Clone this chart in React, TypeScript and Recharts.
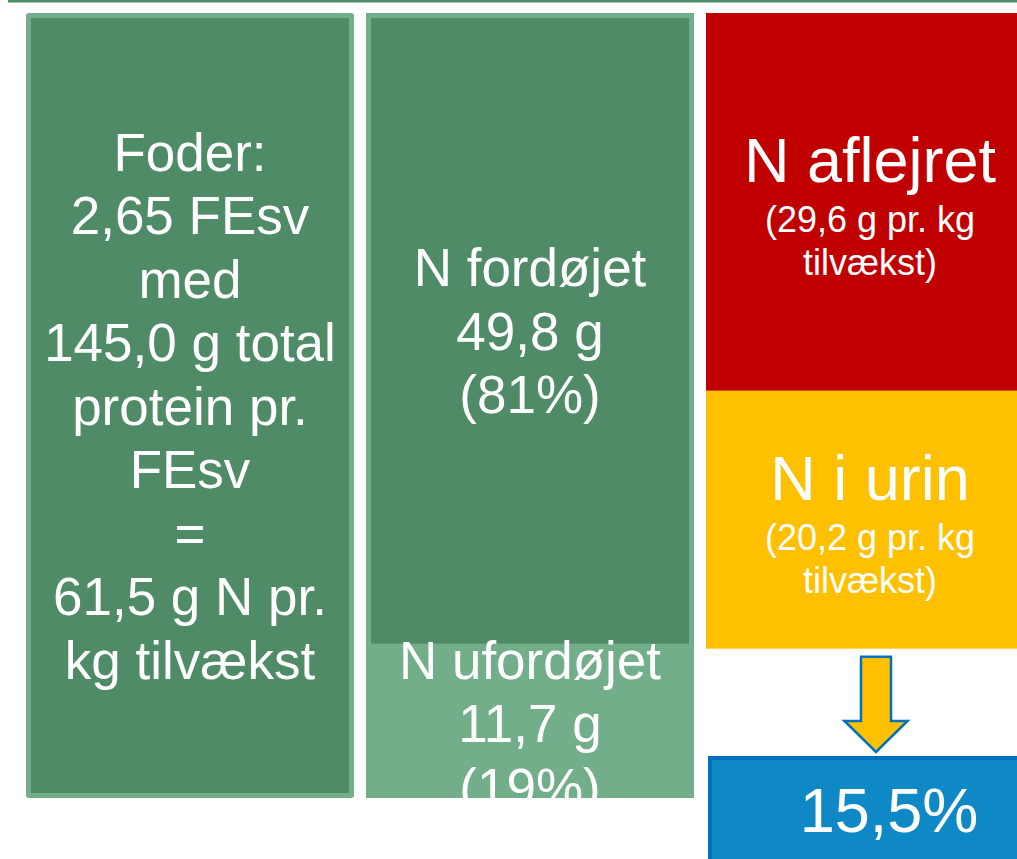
import React from 'react';
import { BarChart, Bar, XAxis, YAxis, LabelList, Customized } from 'recharts';

// Nitrogen balance per kg growth
const stages = ['Foder', 'Fordøjelse', 'Omsætning'];
const upperValues = [61.5, 49.8, 29.6];
const lowerValues = [0, 11.7, 20.2];

const upperLines = [
  ['Foder:', '2,65 FEsv', 'med', '145,0 g total', 'protein pr.', 'FEsv', '=', '61,5 g N pr.', 'kg tilvækst'],
  ['N fordøjet', '49,8 g', '(81%)'],
  ['N aflejret', '(29,6 g pr. kg', 'tilvækst)'],
];
const lowerLines = [
  [],
  ['N ufordøjet', '11,7 g', '(19%)'],
  ['N i urin', '(20,2 g pr. kg', 'tilvækst)'],
];
const outcomeLabel = '15,5%';

const CHART_W = 1017;
const CHART_H = 859;
const MARGIN = { top: 13, right: -23, bottom: 61, left: 20 };
const PLOT_BOTTOM = CHART_H - MARGIN.bottom;

const DARK_GREEN = '#4E8B66';
const LIGHT_GREEN = '#72AE89';
const RED = '#C00000';
const YELLOW = '#FFC000';
const BLUE = '#0E89C5';
const BLUE_EDGE = '#0070C0';
const FONT = '"Liberation Sans", Arial, sans-serif';

const data = stages.map((stage, i) => ({
  stage,
  upper: upperValues[i],
  lower: lowerValues[i],
}));

// bars can come with negative height on a reversed axis
const box = (p: any) => {
  const h = Number(p.height) || 0;
  const top = h < 0 ? p.y + h : p.y;
  return { x: p.x, top, w: p.width, h: Math.abs(h) };
};

const UpperShape = (props: any) => {
  const { x, top, w, h } = box(props);
  if (props.index === 2) {
    return <rect x={x} y={top} width={w} height={h} fill={RED} />;
  }
  // box 2 continues into the lower segment, so only box 1 gets rounded corners
  const rx = props.index === 0 ? 3 : 0;
  return (
    <g>
      <rect x={x} y={top} width={w} height={h + (rx ? 0 : 1)} rx={rx} fill={LIGHT_GREEN} />
      <rect x={x + 5} y={top + 5} width={w - 10} height={h - 10} fill={DARK_GREEN} />
    </g>
  );
};

const LowerShape = (props: any) => {
  const { x, top, w, h } = box(props);
  if (h <= 0) return null;
  if (props.index === 1) {
    return <rect x={x} y={top} width={w} height={h} fill={LIGHT_GREEN} />;
  }
  const bottom = top + h;
  const cx = x + w / 2 + 6;
  const shaftTop = bottom + 8;
  const headTop = PLOT_BOTTOM - 77;
  const tip = PLOT_BOTTOM - 46;
  const arrow = [
    [cx - 15, shaftTop],
    [cx + 15, shaftTop],
    [cx + 15, headTop],
    [cx + 31.5, headTop],
    [cx, tip],
    [cx - 31.5, headTop],
    [cx - 15, headTop],
  ]
    .map((pt) => pt.join(','))
    .join(' ');
  const boxX = x + 4;
  const boxW = w + 30;
  return (
    <g>
      <rect x={x} y={top} width={w} height={h} fill={YELLOW} />
      <polygon points={arrow} fill={YELLOW} stroke={BLUE_EDGE} strokeWidth={2.5} />
      <rect x={boxX} y={PLOT_BOTTOM - 40} width={boxW} height={130} fill={BLUE} stroke={BLUE_EDGE} strokeWidth={4} />
      <text x={boxX + boxW / 2} y={PLOT_BOTTOM + 34} textAnchor="middle" fill="#fff" fontSize={63} fontFamily={FONT}>
        {outcomeLabel}
      </text>
    </g>
  );
};

const makeLabel = (lines: string[][]) => (props: any) => {
  const { x, top, w, h } = box(props);
  const rows = lines[props.index] || [];
  if (!rows.length || h <= 0) return null;
  const cx = x + w / 2;
  const cy = top + h / 2;

  if (props.index === 2) {
    // heading + smaller note
    const startY = cy + 4 - 69 + 45;
    return (
      <text textAnchor="middle" fill="#fff" fontFamily={FONT}>
        <tspan x={cx} y={startY} fontSize={63}>{rows[0]}</tspan>
        <tspan x={cx} y={startY + 50} fontSize={36}>{rows[1]}</tspan>
        <tspan x={cx} y={startY + 93} fontSize={36}>{rows[2]}</tspan>
      </text>
    );
  }

  const lh = 63.5;
  const first = cy - ((rows.length - 1) * lh) / 2 + 19;
  return (
    <text textAnchor="middle" fill="#fff" fontSize={53} fontFamily={FONT}>
      {rows.map((r, i) => (
        <tspan key={i} x={cx} y={first + i * lh}>
          {r}
        </tspan>
      ))}
    </text>
  );
};

const TopRule = () => <rect x={8} y={0} width={CHART_W - 8} height={2.5} fill={DARK_GREEN} />;

export default function App() {
  return (
    <div
      style={{
        position: 'absolute',
        left: 0,
        top: 0,
        width: CHART_W,
        height: CHART_H,
        overflow: 'hidden',
        background: '#fff',
      }}
    >
      <BarChart width={CHART_W} height={CHART_H} data={data} margin={MARGIN} barSize={328}>
        <XAxis dataKey="stage" type="category" hide />
        <YAxis type="number" domain={[0, 61.5]} reversed hide />
        <Bar dataKey="upper" stackId="n" shape={UpperShape} isAnimationActive={false}>
          <LabelList dataKey="upper" content={makeLabel(upperLines)} />
        </Bar>
        <Bar dataKey="lower" stackId="n" shape={LowerShape} isAnimationActive={false}>
          <LabelList dataKey="lower" content={makeLabel(lowerLines)} />
        </Bar>
        <Customized component={TopRule} />
      </BarChart>
    </div>
  );
}
